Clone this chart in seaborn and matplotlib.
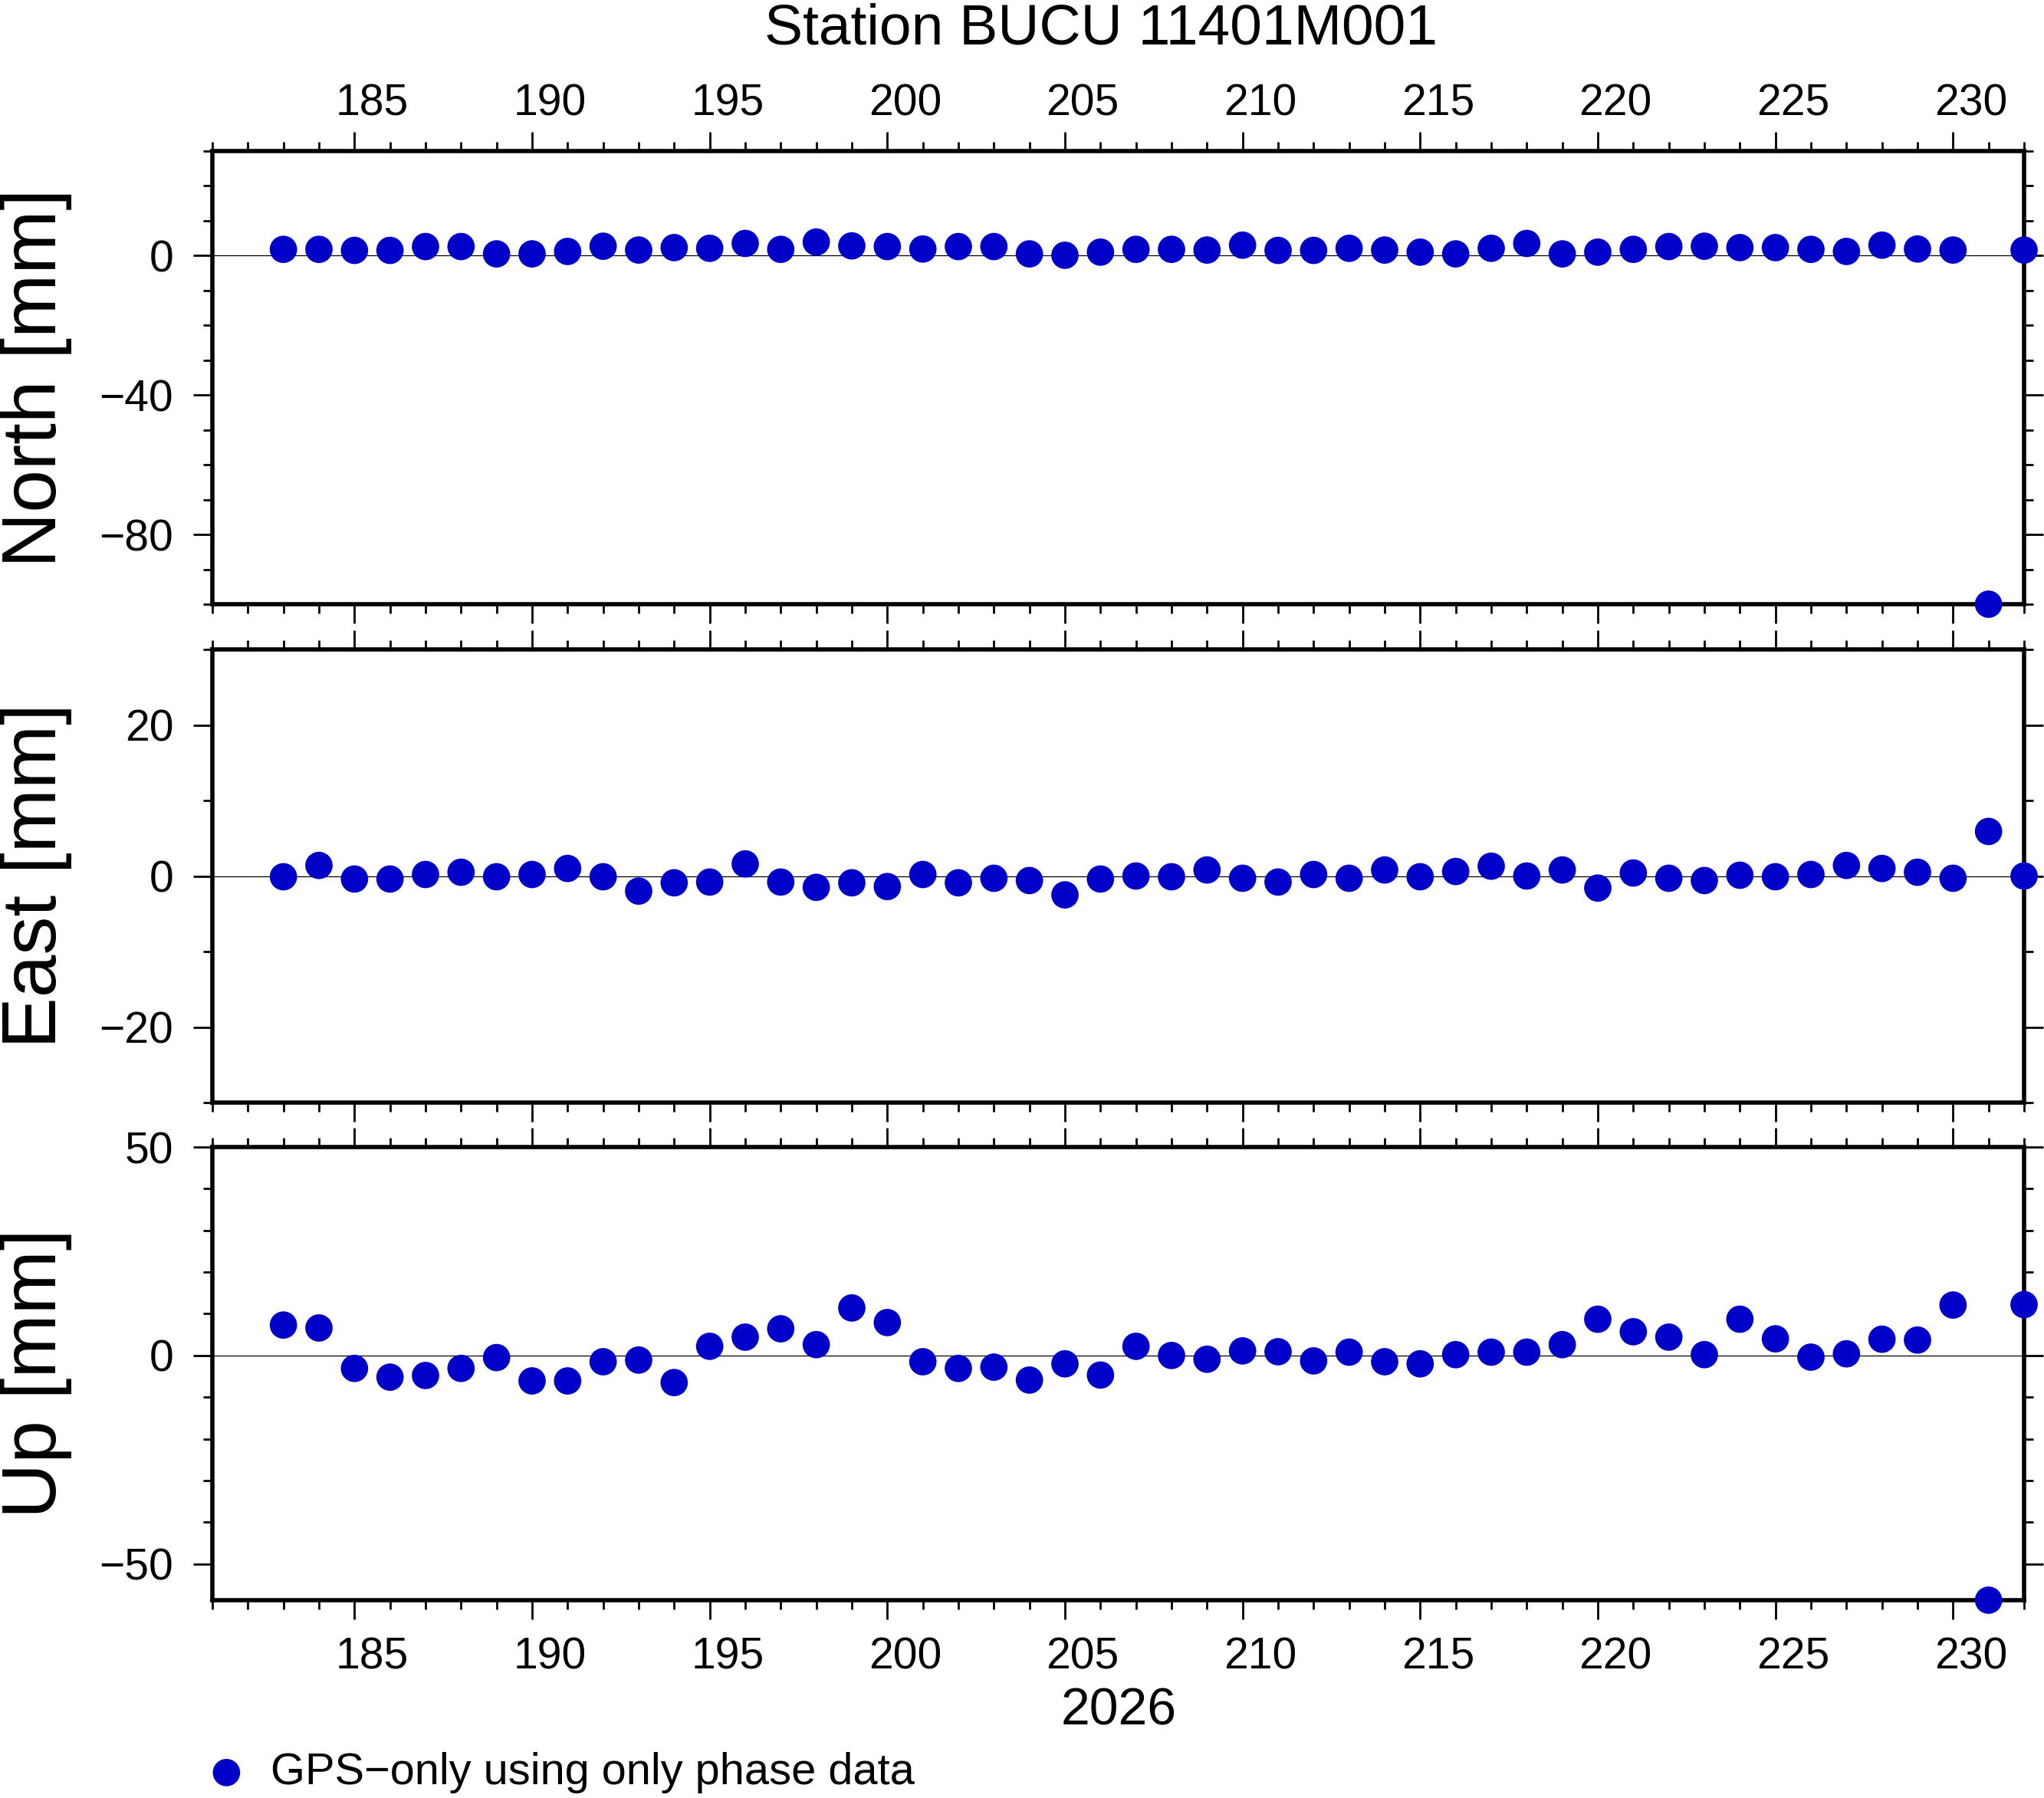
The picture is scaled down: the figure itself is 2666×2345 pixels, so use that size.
import numpy as np
import pandas as pd
import seaborn as sns
import matplotlib.pyplot as plt
from matplotlib.ticker import MultipleLocator
from matplotlib.transforms import ScaledTranslation

# day of year 2026
days = list(range(183, 233))

north = [1.8, 1.8, 1.5, 1.5, 2.6, 2.6, 0.5, 0.5, 1.2, 2.7,
         1.6, 2.3, 2.1, 3.5, 1.8, 3.9, 2.8, 2.6, 1.9, 2.6,
         2.6, 0.5, 0.1, 1.0, 1.8, 1.8, 1.6, 3.0, 1.5, 1.5,
         2.1, 1.6, 1.0, 0.5, 2.1, 3.5, 0.5, 1.0, 1.8, 2.6,
         2.7, 2.3, 2.3, 1.8, 1.2, 3.0, 1.9, 1.6, -100.0, 1.6]

east = [-0.1, 1.4, -0.4, -0.4, 0.2, 0.5, -0.1, 0.2, 1.0, -0.1,
        -2.0, -0.9, -0.8, 1.6, -0.8, -1.5, -0.9, -1.4, 0.2, -0.9,
        -0.3, -0.6, -2.5, -0.4, 0.0, -0.1, 0.8, -0.3, -0.8, 0.2,
        -0.3, 0.8, -0.1, 0.6, 1.3, 0.0, 0.8, -1.6, 0.4, -0.3,
        -0.6, 0.1, -0.1, 0.2, 1.4, 1.0, 0.5, -0.3, 5.9, 0.0]

up = [7.3, 6.6, -3.1, -5.2, -4.8, -3.1, -0.5, -6.1, -6.1, -1.5,
      -1.1, -6.5, 2.2, 4.4, 6.4, 2.6, 11.4, 7.9, -1.5, -3.1,
      -2.8, -5.9, -2.0, -4.7, 2.2, 0.0, -0.9, 1.1, 0.9, -1.3,
      0.8, -1.5, -2.0, 0.2, 0.8, 0.8, 2.6, 8.7, 5.7, 4.4,
      0.2, 8.7, 4.0, -0.4, 0.4, 3.9, 3.7, 12.1, -58.7, 12.2]

df = pd.DataFrame({"day": days, "North": north, "East": east, "Up": up})

panels = ["North", "East", "Up"]
ylims = {"North": (-100, 30), "East": (-30, 30), "Up": (-58.7, 50)}
ymajor = {"North": 40, "East": 20, "Up": 50}
yminor = {"North": 10, "East": 10, "Up": 10}

sns.set_style("ticks")
plt.rcParams['font.family'] = ['Liberation Sans', 'DejaVu Sans']
plt.rcParams['axes.unicode_minus'] = True
for k in ["text.color", "axes.labelcolor", "xtick.color", "ytick.color", "axes.edgecolor"]:
    plt.rcParams[k] = "black"

fig = plt.figure(figsize=(26.66, 23.45), dpi=100)

W, H = 2666, 2345
left, width = 277 / W, 2363 / W
tops = [197, 847, 1496]
ph = 591
# GMT puts the day annotation in the middle of the day interval
half_day = ScaledTranslation(0.5 * 2363 / 51 / 100, 0, fig.dpi_scale_trans)

dot_color = "#0000c8"
axes = []
for i, comp in enumerate(panels):
    ax = fig.add_axes([left, 1 - (tops[i] + ph) / H, width, ph / H])
    axes.append(ax)
    ax.axhline(0, color="black", lw=0.9, zorder=1)
    sns.scatterplot(data=df, x="day", y=comp, ax=ax, color=dot_color,
                    s=660, edgecolor="none", linewidth=0, legend=False,
                    clip_on=False, zorder=10)
    ax.set_xlim(181, 232)
    ax.set_ylim(*ylims[comp])
    ax.xaxis.set_major_locator(MultipleLocator(5))
    ax.xaxis.set_minor_locator(MultipleLocator(1))
    ax.yaxis.set_major_locator(MultipleLocator(ymajor[comp]))
    ax.yaxis.set_minor_locator(MultipleLocator(yminor[comp]))
    for s in ax.spines.values():
        s.set_visible(True)
        s.set_linewidth(4)
        s.set_color("black")
        s.set_zorder(5)
    ax.tick_params(which="both", direction="out", top=True, bottom=True,
                   left=True, right=True, width=2, colors="black",
                   labelsize=41)
    ax.tick_params(which="major", length=18)
    ax.tick_params(which="minor", length=8.6)
    ax.tick_params(axis="y", which="major", pad=18.5, labelright=False)
    ax.tick_params(axis="x", labeltop=(i == 0), labelbottom=(i == 2))
    if i == 0:
        ax.tick_params(axis="x", which="major", pad=7)
    if i == 2:
        ax.tick_params(axis="x", which="major", pad=16)
    ax.set_ylabel(f"{comp} [mm]", fontsize=72)
    ax.yaxis.set_label_coords(-0.0774, 0.5)
    ax.set_xlabel("")

for ax in axes:
    for tick in ax.xaxis.get_major_ticks():
        tick.label1.set_transform(tick.label1.get_transform() + half_day)
        tick.label2.set_transform(tick.label2.get_transform() + half_day)

fig.text(1459 / W, 1 - 2250 / H, "2026", ha="center", va="baseline", fontsize=49)
fig.text(1436 / W, 1 - 57 / H, "Station BUCU 11401M001", ha="center",
         va="baseline", fontsize=54)

handle = axes[0].collections[0]
fig.legend([handle], ["GPS\u2212only using only phase data"], loc="center left",
           bbox_to_anchor=(266.5 / W, 1 - 2312 / H), frameon=False,
           fontsize=41.6, borderpad=0, borderaxespad=0, handlelength=1.0,
           handletextpad=0.5)

fig.savefig("out.png", dpi=100)
plt.close()
